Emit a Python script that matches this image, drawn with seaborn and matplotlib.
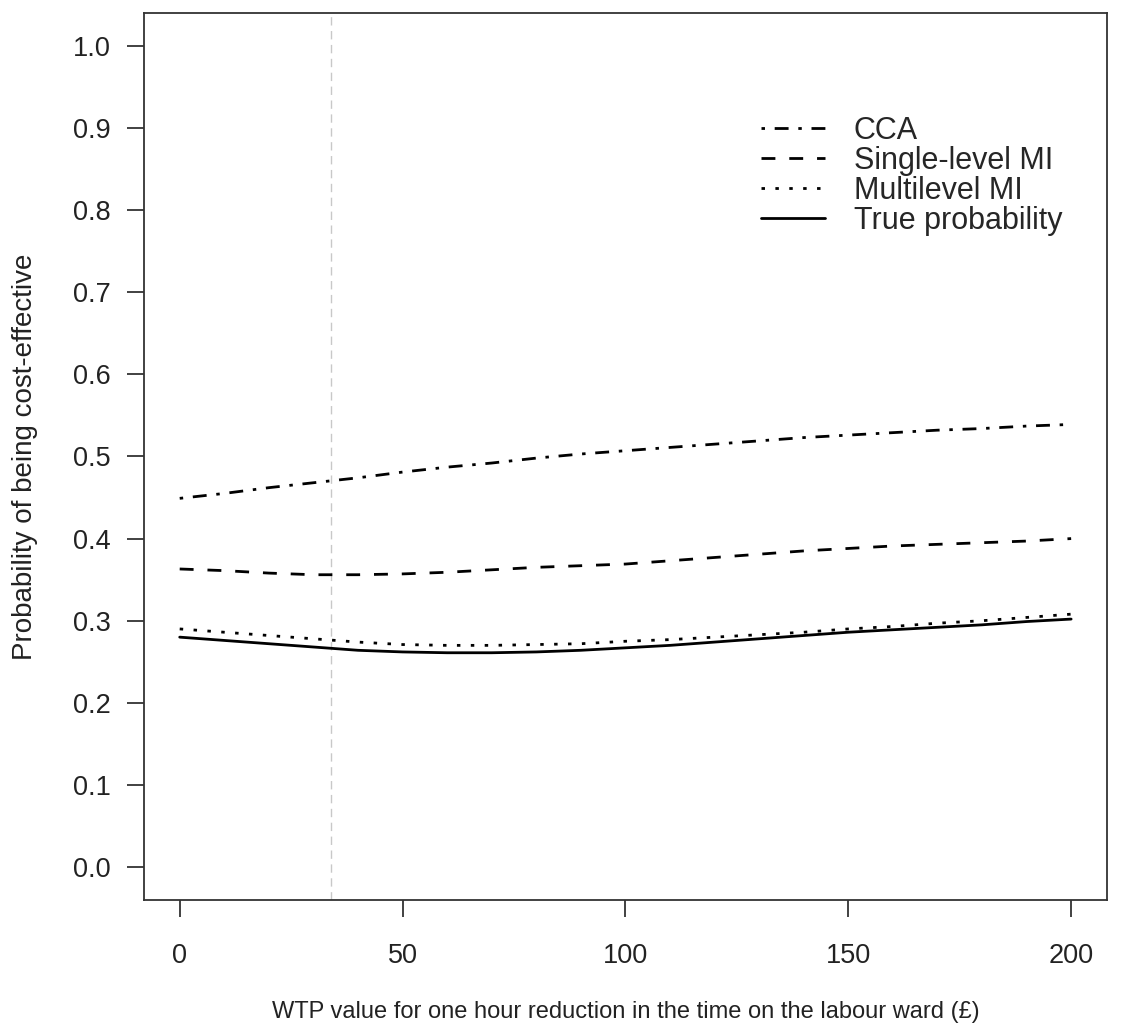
import numpy as np
import pandas as pd
import matplotlib
matplotlib.use("Agg")
import matplotlib.pyplot as plt
import seaborn as sns

# WTP values (GBP) and probability curves
wtp = list(range(0, 201, 10))
cca = [0.449, 0.455, 0.462, 0.468, 0.474, 0.481, 0.487, 0.492, 0.498, 0.503, 0.507,
       0.511, 0.515, 0.519, 0.523, 0.526, 0.529, 0.532, 0.534, 0.537, 0.539]
single_mi = [0.363, 0.361, 0.358, 0.356, 0.356, 0.357, 0.359, 0.362, 0.365, 0.367, 0.369,
             0.373, 0.377, 0.381, 0.385, 0.388, 0.391, 0.393, 0.395, 0.397, 0.400]
multi_mi = [0.290, 0.286, 0.282, 0.278, 0.274, 0.271, 0.270, 0.270, 0.271, 0.272, 0.275,
            0.277, 0.280, 0.283, 0.286, 0.290, 0.293, 0.297, 0.300, 0.304, 0.308]
true_prob = [0.280, 0.276, 0.272, 0.268, 0.264, 0.262, 0.261, 0.261, 0.262, 0.264, 0.267,
             0.270, 0.274, 0.278, 0.282, 0.286, 0.289, 0.292, 0.295, 0.299, 0.302]
methods = ["CCA", "Single-level MI", "Multilevel MI", "True probability"]
wtp_threshold = 34

x_ticks = [0, 50, 100, 150, 200]
y_ticks = [round(v * 0.1, 1) for v in range(11)]

df = pd.DataFrame({
    "wtp": wtp * 4,
    "prob": cca + single_mi + multi_mi + true_prob,
    "method": [m for m in methods for _ in wtp],
})

sns.set_style("white")
plt.rcParams["font.family"] = ["Liberation Sans", "DejaVu Sans"]
plt.rcParams["lines.scale_dashes"] = False

fig = plt.figure(figsize=(11.28, 10.36), dpi=100)
ax = fig.add_axes([0.1277, 0.1313, 0.8535, 0.8562])

line_styles = {
    "CCA": (2.5, 7, 10, 7),
    "Single-level MI": (10, 10),
    "Multilevel MI": (2.5, 7.5),
    "True probability": "",
}
ax.axvline(wtp_threshold, color="#c8c8c8", lw=1.0, dashes=(6, 4), zorder=1)
sns.lineplot(data=df, x="wtp", y="prob", style="method", style_order=methods,
             dashes=line_styles, color="black", lw=2.0, ax=ax)

ax.set_xlim(-8, 208)
ax.set_ylim(-0.04, 1.04)
ax.set_xticks(x_ticks)
ax.set_yticks(y_ticks)
ax.set_yticklabels([f"{v:.1f}" for v in y_ticks])

for side in ax.spines.values():
    side.set_color("#333333")
    side.set_linewidth(1.3)
ax.tick_params(axis="both", direction="out", length=12, width=1.3, color="#333333",
               labelsize=19.5, labelcolor="#222222")
ax.tick_params(axis="x", pad=19, bottom=True)
ax.tick_params(axis="y", pad=12, left=True)

ax.set_xlabel("WTP value for one hour reduction in the time on the labour ward (£)",
              fontsize=17, labelpad=23, color="#222222")
ax.set_ylabel("Probability of being cost-effective", fontsize=20, labelpad=25, color="#222222")

handles, labels = ax.get_legend_handles_labels()
ax.legend(handles, labels, loc="upper left", bbox_to_anchor=(0.612, 0.915), frameon=False,
          fontsize=22, handlelength=2.1, handletextpad=0.95, labelspacing=0.0)

fig.savefig("out.png", dpi=100)
